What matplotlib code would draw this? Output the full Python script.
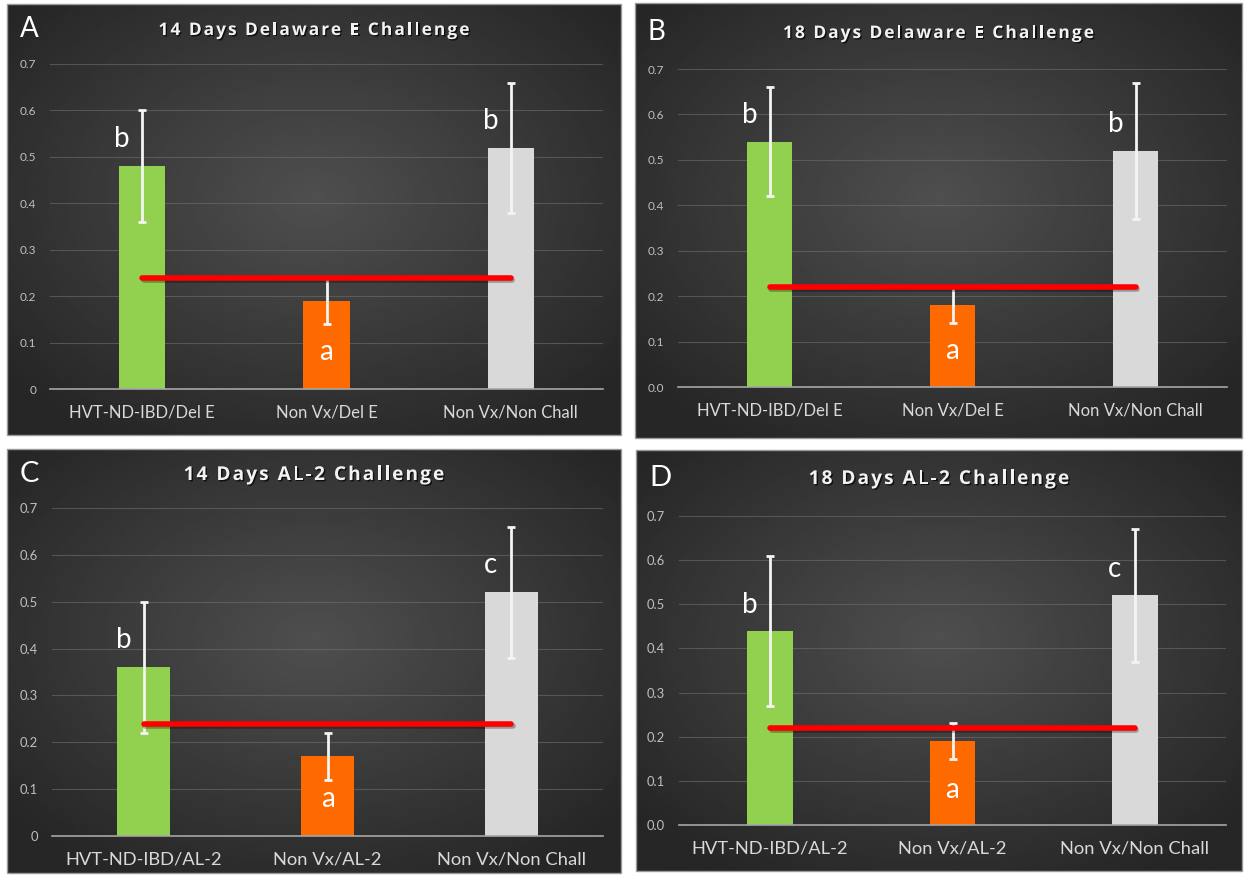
import matplotlib
matplotlib.use('Agg')

import matplotlib.pyplot as plt
import matplotlib.patheffects as pe
from matplotlib.patches import Rectangle
import numpy as np

# group names
groups_del = ['HVT-ND-IBD/Del E', 'Non Vx/Del E', 'Non Vx/Non Chall']
groups_al2 = ['HVT-ND-IBD/AL-2', 'Non Vx/AL-2', 'Non Vx/Non Chall']

titles = ['14 Days Delaware E Challenge', '18 Days Delaware E Challenge',
          '14 Days AL-2 Challenge', '18 Days AL-2 Challenge']
panel_tags = ['A', 'B', 'C', 'D']

# means, error bars, reference line and significance letters per panel
means_a = [0.48, 0.19, 0.52]
err_a = [0.12, 0.05, 0.14]
ref_a = 0.24
letters_a = ['b', 'a', 'b']

means_b = [0.54, 0.18, 0.52]
err_b = [0.12, 0.04, 0.15]
ref_b = 0.22
letters_b = ['b', 'a', 'b']

means_c = [0.36, 0.17, 0.52]
err_c = [0.14, 0.05, 0.14]
ref_c = 0.24
letters_c = ['b', 'a', 'c']

means_d = [0.44, 0.19, 0.52]
err_d = [0.17, 0.04, 0.15]
ref_d = 0.22
letters_d = ['b', 'a', 'c']

yticks = [0, 0.1, 0.2, 0.3, 0.4, 0.5, 0.6, 0.7]
tick_fmt = ['{:g}', '{:.1f}', '{:g}', '{:.1f}']

bar_colors = ['#92d050', '#ff6a00', '#d9d9d9']

W, H = 1244, 875
FONT = 'Lato'

fig = plt.figure(figsize=(W / 100, H / 100), dpi=100)
fig.patch.set_facecolor('white')
renderer = fig.canvas.get_renderer()


def frac(x0, y0, x1, y1):
    """pixel box (top-left origin) -> figure fraction rect"""
    return [x0 / W, 1 - y1 / H, (x1 - x0) / W, (y1 - y0) / H]


def text_width(s, **kw):
    t = fig.text(0, 0, s, **kw)
    w = t.get_window_extent(renderer).width
    t.remove()
    return w


def spaced_text(s, cx, cy, spacing, **kw):
    """draw text centred at pixel (cx, cy) with extra letter spacing"""
    total = text_width(s, **kw) + spacing * (len(s) - 1)
    x0 = cx - total / 2
    for i, ch in enumerate(s):
        if ch == ' ':
            continue
        left = text_width(s[:i + 1], **kw) - text_width(ch, **kw) + i * spacing
        fig.text((x0 + left) / W, 1 - cy / H, ch, ha='left', va='center', **kw)


def background(rect):
    bg = fig.add_axes(frac(*rect), zorder=-5)
    ny, nx = 200, 300
    yy, xx = np.mgrid[0:1:ny * 1j, 0:1:nx * 1j]
    r = np.sqrt(((xx - 0.5) / 0.5) ** 2 + ((yy - 0.45) / 0.5) ** 2)
    v = 0.31 - 0.16 * np.clip(r, 0, 1.3) / 1.3
    bg.imshow(v, cmap='gray', vmin=0, vmax=1, aspect='auto', interpolation='bilinear')
    bg.set_axis_off()
    fig.patches.append(Rectangle((rect[0] / W, 1 - rect[3] / H),
                                 (rect[2] - rect[0]) / W, (rect[3] - rect[1]) / H,
                                 transform=fig.transFigure, fill=False,
                                 edgecolor='#9a9a9a', lw=1, zorder=-4))


panels = [
    dict(box=(7, 4, 621, 435), ax=(50, 64, 603, 389), tcy=30, scale=1.0, width=0.25,
         means=means_a, err=err_a, ref=ref_a, letters=letters_a, groups=groups_del),
    dict(box=(635, 3, 1242, 438), ax=(678, 69, 1227, 387), tcy=33, scale=1.0, width=0.25,
         means=means_b, err=err_b, ref=ref_b, letters=letters_b, groups=groups_del),
    dict(box=(7, 449, 621, 873), ax=(52, 508, 603, 836), tcy=475, scale=1.1, width=0.29,
         means=means_c, err=err_c, ref=ref_c, letters=letters_c, groups=groups_al2),
    dict(box=(636, 450, 1242, 871), ax=(679, 516, 1226, 825), tcy=479, scale=1.1, width=0.25,
         means=means_d, err=err_d, ref=ref_d, letters=letters_d, groups=groups_al2),
]

for i, p in enumerate(panels):
    s = p['scale']
    background(p['box'])
    ax = fig.add_axes(frac(*p['ax']))
    ax.set_facecolor('none')
    x = np.arange(3)

    ax.bar(x, p['means'], width=p['width'], color=bar_colors, zorder=2)
    ax.errorbar(x, p['means'], yerr=p['err'], fmt='none', ecolor='#f4f4f4',
                elinewidth=2, capsize=3, capthick=2, zorder=3)
    ax.plot([x[0], x[-1]], [p['ref']] * 2, color='#ff0000', lw=4,
            solid_capstyle='round', zorder=4,
            path_effects=[pe.SimpleLineShadow(offset=(1, -1.5), alpha=0.3),
                          pe.Normal()])

    for xi, m, letter in zip(x, p['means'], p['letters']):
        if letter == 'a':
            ax.text(xi, 0.08, letter, ha='center', va='center', color='white',
                    fontsize=20, family=FONT, zorder=5)
        else:
            ax.text(xi - 0.11, m + 0.03, letter, ha='center', va='bottom',
                    color='white', fontsize=20, family=FONT, zorder=5)

    ax.set_xlim(-0.5, 2.5)
    ax.set_ylim(0, 0.7)
    ax.set_yticks(yticks)
    ax.set_yticklabels([tick_fmt[i].format(t) for t in yticks],
                       family=FONT, fontsize=8.5 * s, color='#bfbfbf')
    ax.set_xticks(x)
    ax.set_xticklabels(p['groups'], family=FONT, fontsize=12 * s, color='#d9d9d9')
    ax.tick_params(axis='y', length=0, pad=10)
    ax.tick_params(axis='x', length=0, pad=11)
    ax.grid(axis='y', color='#6e6e6e', lw=0.8, alpha=0.6, zorder=0)
    ax.set_axisbelow(True)
    for side in ['top', 'right', 'left']:
        ax.spines[side].set_visible(False)
    ax.spines['bottom'].set_color('#a6a6a6')
    ax.spines['bottom'].set_linewidth(1.2)
    ax.spines['bottom'].set_zorder(2.5)

    # title and panel tag
    x0, y0, x1, y1 = p['box']
    spaced_text(titles[i], (x0 + x1) / 2, p['tcy'], 2.0,
                family='Open Sans', fontsize=12.5 * s, fontweight='bold', color='#f2f2f2',
                path_effects=[pe.withSimplePatchShadow(offset=(1, -1),
                                                       shadow_rgbFace='black', alpha=0.7)])
    fig.text((x0 + 13) / W, 1 - (p['tcy'] - 1) / H, panel_tags[i], ha='left', va='center',
             family=FONT, fontsize=21 if s > 1 else 20, color='white')

fig.savefig('out.png', dpi=100, facecolor=fig.get_facecolor())
